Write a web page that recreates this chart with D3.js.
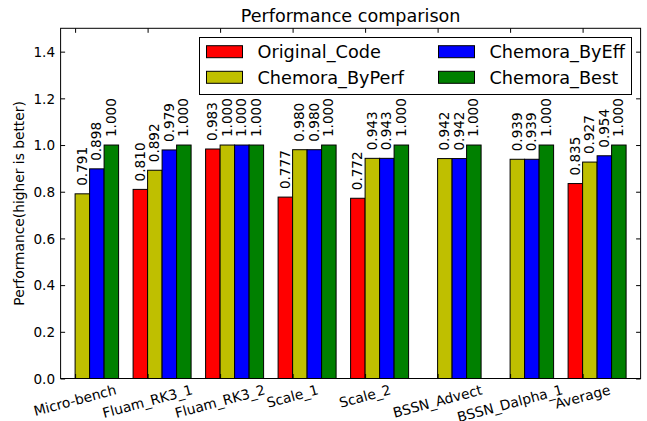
<!DOCTYPE html>
<html><head><meta charset="utf-8">
<script src="https://cdn.jsdelivr.net/npm/d3@7"></script>
<style>body{margin:0;background:#fff}svg{display:block;font-family:"DejaVu Sans",sans-serif}</style>
</head><body>
<svg id="c" width="647" height="421"></svg>
<script>
const categories = ["Micro-bench","Fluam_RK3_1","Fluam_RK3_2","Scale_1","Scale_2","BSSN_Advect","BSSN_Dalpha_1","Average"];
const seriesNames = ["Original_Code","Chemora_ByPerf","Chemora_ByEff","Chemora_Best"];
const originalCode = [0, 0.810, 0.983, 0.777, 0.772, 0, 0, 0.835];
const chemoraByPerf = [0.791, 0.892, 1.000, 0.980, 0.943, 0.942, 0.939, 0.927];
const chemoraByEff = [0.898, 0.979, 1.000, 0.980, 0.943, 0.942, 0.939, 0.954];
const chemoraBest = [1.000, 1.000, 1.000, 1.000, 1.000, 1.000, 1.000, 1.000];
const yTicks = [0.0, 0.2, 0.4, 0.6, 0.8, 1.0, 1.2, 1.4];
const colors = ["#ff0000","#bfbf00","#0000ff","#008000"];
const series = [originalCode, chemoraByPerf, chemoraByEff, chemoraBest];

const svg = d3.select("#c");
const L = 60.6, R = 640.6, T = 28.3, B = 378.5;
const barW = 0.2;
const x = d3.scaleLinear().domain([0, categories.length]).range([L, R]);
const y = d3.scaleLinear().domain([0, 1.5]).range([B, T]);

// bars
series.forEach((vals, j) => {
  svg.append("g").selectAll("rect").data(vals).join("rect")
    .attr("x", (d, i) => x(i + j * barW))
    .attr("width", x(barW) - x(0))
    .attr("y", d => y(d))
    .attr("height", d => y(0) - y(d))
    .attr("fill", colors[j])
    .attr("stroke", "#000").attr("stroke-width", 1);
});

// value labels
series.forEach((vals, j) => {
  vals.forEach((v, i) => {
    if (v <= 0) return;
    const cx = x(i + j * barW + barW / 2) - 0.5;
    const by = y(v) - 8;
    svg.append("text")
      .attr("transform", `translate(${cx},${by}) rotate(-90)`)
      .attr("dy", "0.36em")
      .attr("font-size", 13.6)
      .attr("fill", "#000")
      .text(v.toFixed(3));
  });
});

// frame
svg.append("rect").attr("x", L).attr("y", T).attr("width", R - L).attr("height", B - T)
  .attr("fill", "none").attr("stroke", "#000").attr("stroke-width", 1);

// y ticks
const tl = 4.5;
const yAxisL = svg.append("g").attr("transform", `translate(${L},0)`)
  .call(d3.axisLeft(y).tickValues(yTicks).tickFormat(d3.format(".1f")).tickSizeInner(-tl).tickSizeOuter(0).tickPadding(5));
yAxisL.select(".domain").remove();
yAxisL.selectAll("text").attr("font-size", 13.6).attr("font-family", "DejaVu Sans").attr("fill", "#000").attr("dy", "0.35em").attr("x", -5.5);
const yAxisR = svg.append("g").attr("transform", `translate(${R},0)`)
  .call(d3.axisRight(y).tickValues(yTicks).tickFormat("").tickSizeInner(-tl).tickSizeOuter(0));
yAxisR.select(".domain").remove();

// x ticks
const tickPos = categories.map((c, i) => i + barW);
const xTop = svg.append("g").attr("transform", `translate(0,${T})`)
  .call(d3.axisTop(x).tickValues(tickPos).tickFormat("").tickSizeInner(-tl).tickSizeOuter(0));
xTop.select(".domain").remove();
const xBot = svg.append("g").attr("transform", `translate(0,${B})`)
  .call(d3.axisBottom(x).tickValues(tickPos).tickFormat("").tickSizeInner(-tl).tickSizeOuter(0));
xBot.select(".domain").remove();

// x tick labels rotated 15deg, bbox centered on tick, top at B+3
const ang = 15 * Math.PI / 180;
const xfs = 13.8;
categories.forEach((c, i) => {
  const t = svg.append("text").attr("font-size", xfs).attr("text-anchor", "middle").attr("fill", "#000").text(c);
  const W = t.node().getComputedTextLength();
  const H = xfs * 1.17;
  const bh = W * Math.sin(ang) + H * Math.cos(ang);
  const cy = B + 3.5 + bh / 2;
  t.attr("transform", `translate(${x(tickPos[i])},${cy}) rotate(-15)`).attr("dy", "0.32em");
});

// y label
svg.append("text").attr("transform", `translate(19,${(T + B) / 2}) rotate(-90)`)
  .attr("text-anchor", "middle").attr("dy", "0.35em").attr("font-size", 13.8).attr("fill", "#000")
  .text("Performance(higher is better)");

// title
svg.append("text").attr("x", (L + R) / 2).attr("y", 21.5).attr("text-anchor", "middle")
  .attr("font-size", 17.6).attr("fill", "#000").text("Performance comparison");

// legend
const lg = svg.append("g");
lg.append("rect").attr("x", 199.5).attr("y", 37.5).attr("width", 432).attr("height", 57)
  .attr("fill", "#fff").attr("stroke", "#000").attr("stroke-width", 1);
const colX = [206.5, 438.5], rowY = [51.7, 77.3];
const order = [[0,0],[0,1],[1,0],[1,1]]; // [col,row] for series 0..3
seriesNames.forEach((n, j) => {
  const [ci, ri] = order[j];
  lg.append("rect").attr("x", colX[ci]).attr("y", rowY[ri] - 6).attr("width", 36).attr("height", 12)
    .attr("fill", colors[j]).attr("stroke", "#000").attr("stroke-width", 1);
  lg.append("text").attr("x", colX[ci] + 51).attr("y", rowY[ri]).attr("dy", "0.36em")
    .attr("font-size", 17.7).attr("fill", "#000").text(n);
});
</script>
</body></html>
